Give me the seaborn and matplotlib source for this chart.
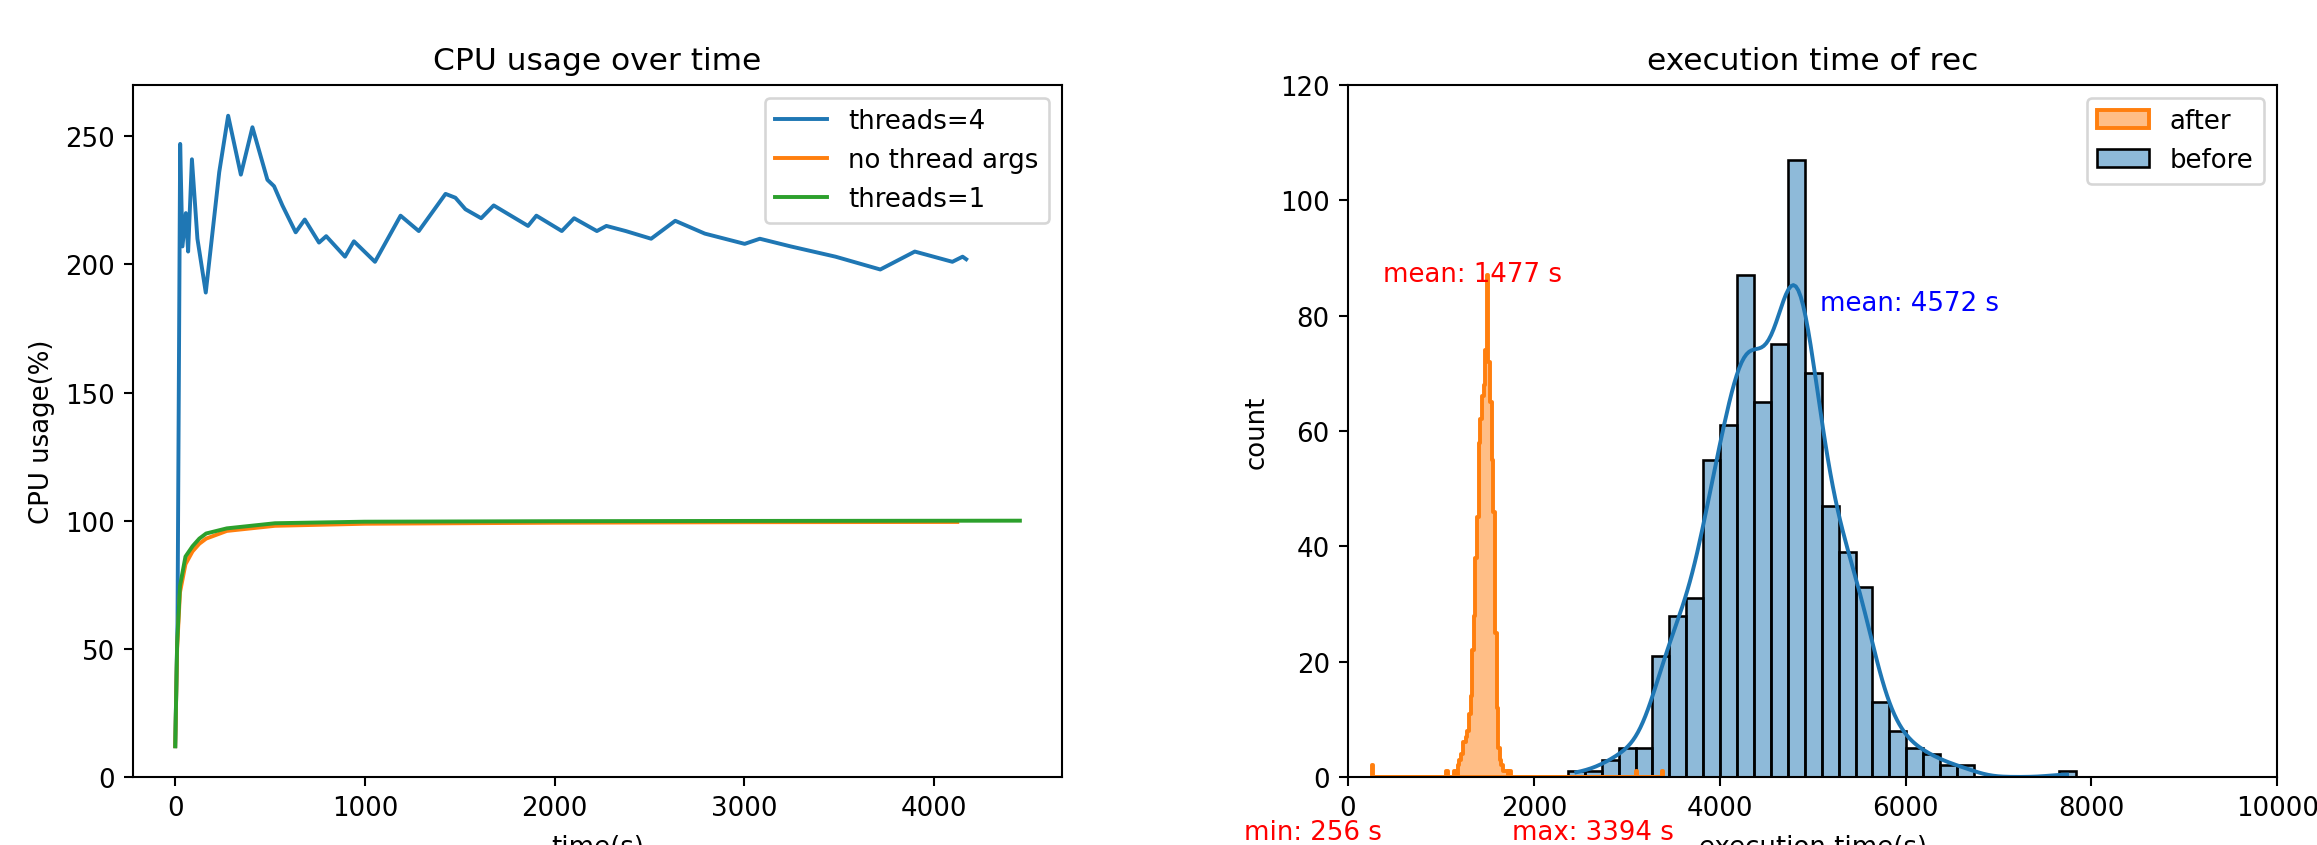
"""
CPU usage over time and execution time histogram (before / after).
"""

import numpy as np
import matplotlib
matplotlib.use("Agg")
import matplotlib.pyplot as plt
import seaborn as sns

DPI = 187.5

# ---- left panel: CPU usage samples (time in s, usage in %) ----
t4_time = [0, 12, 26, 38, 56, 68, 88, 117, 161, 232, 279, 346, 407, 486, 521,
           565, 635, 683, 758, 796, 895, 942, 1053, 1188, 1284, 1425, 1477,
           1530, 1613, 1679, 1860, 1904, 2038, 2103, 2223, 2273, 2375, 2509,
           2636, 2792, 3002, 3082, 3245, 3481, 3717, 3899, 4097, 4151, 4170]
t4_cpu = [12, 60, 247, 207, 220, 205, 241, 210, 189, 236, 258, 235, 253.5, 233,
          230.5, 223, 212.5, 217.5, 208.5, 211, 203, 209, 201, 219, 213, 227.5,
          226, 221.5, 218, 223, 215, 219, 213, 218, 213, 215, 213, 210,
          217, 212, 208, 210, 207, 203, 198, 205, 201, 203, 202]

noargs_time = [0, 10, 25, 54, 91, 127, 163, 272, 526, 1000, 2000, 3000, 4123]
noargs_cpu = [12, 50, 72, 83, 88, 91, 93, 96, 98, 98.8, 99.2, 99.4, 99.5]

t1_time = [0, 10, 25, 54, 91, 127, 163, 272, 526, 997, 2000, 3000, 4453]
t1_cpu = [12, 52, 74.5, 86, 90, 93, 95, 97, 99, 99.6, 99.8, 99.9, 100]

# ---- right panel: execution time histograms ----
# before: 30 bins between the min and max run time
before_range = (2366, 7830)
before_counts = [1, 1, 3, 5, 5, 21, 28, 31, 55, 61, 87, 65, 75, 107, 70,
                 47, 39, 33, 13, 8, 5, 4, 2, 2, 0, 0, 0, 0, 0, 1]

# after: narrow bins, only the non-empty ones are listed
after_range = (256, 3394)
after_bins = 180
after_times = [265, 1066, 1150, 1185, 1205, 1223, 1240, 1258, 1275, 1292,
               1310, 1327, 1345, 1362, 1380, 1397, 1414, 1432, 1449, 1467,
               1484, 1502, 1519, 1537, 1554, 1571, 1589, 1606, 1624, 1641,
               1658, 1676, 1693, 1710, 1745, 3100, 3380]
after_counts = [2, 1, 1, 2, 3, 4, 6, 6, 7, 8,
                11, 14, 22, 28, 38, 45, 58, 62, 66, 68,
                74, 87, 72, 65, 55, 46, 25, 12, 5, 3,
                2, 1, 1, 1, 1, 1, 1]

# expand the binned counts back into samples for seaborn
before_edges = np.linspace(before_range[0], before_range[1], len(before_counts) + 1)
before_mid = (before_edges[:-1] + before_edges[1:]) / 2
before_samples = np.repeat(before_mid, before_counts)
after_samples = np.repeat(after_times, after_counts)

fig = plt.figure(figsize=(2317 / DPI, 846 / DPI), dpi=DPI)
ax1 = fig.add_axes([0.0574, 0.0804, 0.4010, 0.818])
ax2 = fig.add_axes([0.5818, 0.0804, 0.4010, 0.818])

# CPU usage over time
sns.lineplot(x=t4_time, y=t4_cpu, ax=ax1, color="C0", label="threads=4")
sns.lineplot(x=noargs_time, y=noargs_cpu, ax=ax1, color="C1", label="no thread args")
sns.lineplot(x=t1_time, y=t1_cpu, ax=ax1, color="C2", label="threads=1")
ax1.set_ylim(0, 270)
ax1.set_title("CPU usage over time")
ax1.set_xlabel("time(s)", labelpad=5)
ax1.set_ylabel("CPU usage(%)")
ax1.legend(loc="upper right")

# execution time histogram
sns.histplot(x=before_samples, bins=len(before_counts), binrange=before_range,
             kde=True, color="C0", alpha=0.5, edgecolor="black", linewidth=1,
             line_kws={"linewidth": 1.5}, ax=ax2, label="before")
sns.histplot(x=after_samples, bins=after_bins, binrange=after_range,
             element="step", color="C1", alpha=0.5, linewidth=1.5,
             ax=ax2, label="after")
ax2.set_xlim(0, 10000)
ax2.set_ylim(0, 120)
ax2.set_title("execution time of rec")
ax2.set_xlabel("execution time(s)", labelpad=5)
ax2.set_ylabel("count")

ax2.text(377, 86, "mean: 1477 s", color="red")
ax2.text(5080, 81, "mean: 4572 s", color="blue")
ax2.text(-1115, -10.8, "min: 256 s", color="red")
ax2.text(1770, -10.8, "max: 3394 s", color="red")

handles, labels = ax2.get_legend_handles_labels()
order = [labels.index("after"), labels.index("before")]
ax2.legend([handles[i] for i in order], [labels[i] for i in order], loc="upper right")

fig.savefig("out.png", dpi=DPI)
